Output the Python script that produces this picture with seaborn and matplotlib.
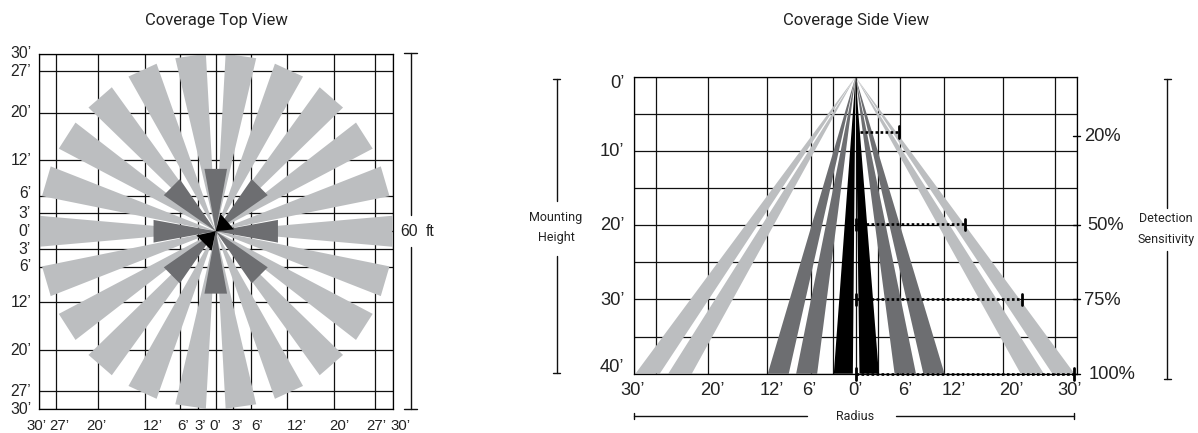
# coverage pattern plot: top view and side view of the sensor

import numpy as np
import pandas as pd
import matplotlib.pyplot as plt
import seaborn as sns

LIGHT = "#bcbec0"
DARK = "#6d6e71"
BLACK = "#000000"
W, H = 1198, 433

# 1. Top view data (feet and degrees)
top_grid = [-30, -27, -20, -12, -6, -3, 0, 3, 6, 12, 20, 27, 30]
top_xlabel_pos = [-30.3, -26.4, -20.2, -10.7, -5.5, -2.7, -0.1, 3.6, 7.0, 13.8, 20.9, 27.2, 31.2]
top_xlabels = ["30’", "27’", "20’", "12’", "6’", "3’", "0’", "3’", "6’", "12’", "20’", "27’", "30’"]
top_ylabel_pos = [-30, -27, -20, -12, -6.4, -3, 0, 3, 6, 12, 20.2, 27, 30]
top_ylabels = ["30’", "27’", "20’", "12’", "6’", "3’", "0’", "3’", "6’", "12’", "20’", "27’", "30’"]

light_bearings = [0, 16.4, 32.7, 49.1, 65.5, 81.8, 98.2, 114.5, 130.9, 147.3, 163.6,
                  180, 196.4, 212.7, 229.1, 245.5, 261.8, 278.2, 294.5, 310.9, 327.3, 343.6]
light_half = 5.0
light_radius = 30.0
dark_bearings = [0, 45, 90, 135, 180, 225, 270, 315]
dark_half = 10.3
dark_radius = 10.7
black_bearings = [41, 225]
black_half = [35, 33]
black_radius = [3.1, 3.35]

# 2. Side view data (feet)
side_xgrid = [-30, -27, -20, -12, -6, -3, 0, 3, 6, 12, 20, 27, 30]
side_ygrid = [0, 5, 10, 15, 20, 25, 30, 35, 40]
side_xlabel_pos = [-30.2, -19.4, -11.4, -6.3, 0, 6.8, 13.3, 21.1, 29.1]
side_xlabels = ["30’", "20’", "12’", "6’", "0’", "6’", "12’", "20’", "30’"]
side_ylabel_pos = [0.85, 10.1, 20.1, 30.1, 39.1]
side_ylabels = ["0’", "10’", "20’", "30’", "40’"]

side_light = [(-29.85, -26.55), (-25.4, -22.2), (22.4, 25.55), (26.7, 29.7)]
side_dark = [(-11.9, -9.05), (-8.05, -5.2), (5.3, 8.2), (9.2, 12.07)]
side_black = [(-2.94, -0.36), (0.54, 3.17)]

sens_labels = ["20%", "50%", "75%", "100%"]
sens_depth = [7.5, 19.9, 30.0, 40.0]
sens_reach = [5.9, 14.8, 22.6, 29.7]
sens_start = [0.6, 0.0, 0.0, 0.0]
sens_tick_depth = [8.0, 20.0, 30.0, 40.0]

sns.set_theme(style="white")
plt.rcParams["font.family"] = ["Liberation Sans", "DejaVu Sans"]
plt.rcParams["axes.linewidth"] = 0.9


def px_axes(fig, left, top, right, bottom):
    return fig.add_axes([left / W, 1 - bottom / H, (right - left) / W, (bottom - top) / H])


def wedge(bearing, half, radius):
    a = np.radians([bearing - half, bearing + half])
    return [0, radius * np.cos(a[0]), radius * np.cos(a[1])], [0, radius * np.sin(a[0]), radius * np.sin(a[1])]


fig = plt.figure(figsize=(W / 100, H / 100), dpi=100)

# overlay in pixel units for titles and scale bars
over = fig.add_axes([0, 0, 1, 1])
over.set_xlim(0, W)
over.set_ylim(H, 0)
over.axis("off")

# 3. Top view
ax1 = px_axes(fig, 38.5, 53.5, 393, 409)
ax1.set_xlim(-30, 30)
ax1.set_ylim(-30, 30)
ax1.set_xticks(top_grid)
ax1.set_yticks(top_grid)
ax1.set_xticklabels([])
ax1.set_yticklabels([])
ax1.tick_params(length=0)
ax1.grid(True, color="#111111", lw=0.9)
ax1.set_axisbelow(True)
for spine in ax1.spines.values():
    spine.set_color("black")

for b in light_bearings:
    xs, ys = wedge(b, light_half, light_radius)
    ax1.fill(xs, ys, color=LIGHT, lw=0, zorder=2)
for b in dark_bearings:
    xs, ys = wedge(b, dark_half, dark_radius)
    ax1.fill(xs, ys, color=DARK, lw=0, zorder=3)
for b, h, r in zip(black_bearings, black_half, black_radius):
    xs, ys = wedge(b, h, r)
    ax1.fill(xs, ys, color=BLACK, lw=0, zorder=4)

xf = ax1.get_xaxis_transform()
yf = ax1.get_yaxis_transform()
# bottom labels sit close to the image edge, keep them inside
for pos, lab in zip(top_xlabel_pos, top_xlabels):
    ax1.text(pos, -0.047, lab, transform=xf, ha="center", va="center", fontsize=10.8, color="#222222")
for pos, lab in zip(top_ylabel_pos, top_ylabels):
    ax1.text(-0.021, -pos, lab, transform=yf, ha="right", va="center", fontsize=11.3, color="#222222")

# 4. Side view
ax2 = px_axes(fig, 634.3, 76.7, 1076.7, 373.7)
ax2.set_xlim(-30, 30)
ax2.set_ylim(40, 0)
ax2.set_xticks(side_xgrid)
ax2.set_yticks(side_ygrid)
ax2.set_xticklabels([])
ax2.set_yticklabels([])
ax2.tick_params(length=0)
ax2.grid(True, color="#111111", lw=0.9)
ax2.set_axisbelow(True)
for spine in ax2.spines.values():
    spine.set_color("black")

for group, col in ((side_light, LIGHT), (side_dark, DARK), (side_black, BLACK)):
    for a, b in group:
        ax2.fill([0, a, b], [0, 40, 40], color=col, lw=0, zorder=2)

# dotted reach lines with end ticks
for start, reach, depth in zip(sens_start, sens_reach, sens_depth):
    reach_df = pd.DataFrame({"radius": [start, reach], "depth": [depth, depth]})
    sns.lineplot(data=reach_df, x="radius", y="depth", ax=ax2, color="black", lw=1.9,
                 linestyle=(0, (1.0, 0.9)), sort=False, estimator=None, zorder=5, clip_on=False)
    ax2.plot([reach, reach], [depth - 0.8, depth + 0.8], color="black", lw=2, zorder=6, clip_on=False)
    if start == 0:
        ax2.plot([start, start], [depth - 0.8, depth + 0.8], color="black", lw=2, zorder=6, clip_on=False)
ax2.set_xlabel("")
ax2.set_ylabel("")
ax2.set_xlim(-30, 30)
ax2.set_ylim(40, 0)

xf = ax2.get_xaxis_transform()
yf = ax2.get_yaxis_transform()
for pos, lab in zip(side_xlabel_pos, side_xlabels):
    ax2.text(pos, -0.055, lab, transform=xf, ha="center", va="center", fontsize=13.2, color="#222222")
for pos, lab in zip(side_ylabel_pos, side_ylabels):
    ax2.text(-0.022, pos, lab, transform=yf, ha="right", va="center", fontsize=13.2, color="#222222")
# sensitivity marks on the right edge
for d, lab, dx in zip(sens_tick_depth, sens_labels, [0.017, 0.024, 0.017, 0.026]):
    ax2.plot([29.5, 30.5], [d, d], color="black", lw=1, zorder=6, clip_on=False)
    ax2.text(1 + dx, d + 0.1, lab, transform=yf, ha="left", va="center", fontsize=13.2, color="#222222")

# 5. Titles and scale bars
for x, y, s in ((216, 20, "Coverage Top View"), (856, 20, "Coverage Side View")):
    over.text(x, y, s, ha="center", va="center", fontsize=12, family=["Roboto", "DejaVu Sans"], color="#222222")
for x, y, s in ((556, 218, "Mounting"), (556, 238, "Height"),
                (1166, 219, "Detection"), (1166, 240, "Sensitivity"), (855, 417, "Radius")):
    over.text(x, y, s, ha="center", va="center", fontsize=9, family=["Roboto", "DejaVu Sans"], color="#222222")


def vbar(x, top, bottom, gap_top, gap_bottom, cap):
    over.plot([x, x], [top, gap_top], color="#111111", lw=1)
    over.plot([x, x], [gap_bottom, bottom], color="#111111", lw=1)
    over.plot([x - cap, x + cap], [top, top], color="#111111", lw=1)
    over.plot([x - cap, x + cap], [bottom, bottom], color="#111111", lw=1)


vbar(410.7, 53, 409, 215, 247, 6.5)
vbar(556.7, 79, 372.7, 201, 256, 3.5)
vbar(1167.3, 79, 379.3, 208, 251, 3.5)
over.text(400, 231.5, "60", ha="left", va="center", fontsize=11.3, color="#222222")
over.text(434, 231.5, "ft", ha="right", va="center", fontsize=11.3, color="#222222")
over.plot([634.3, 806.7], [415.7, 415.7], color="#111111", lw=1)
over.plot([896, 1074], [415.7, 415.7], color="#111111", lw=1)
over.plot([634.3, 634.3], [413, 418.5], color="#111111", lw=1)
over.plot([1074, 1074], [413, 418.5], color="#111111", lw=1)
over.set_xlim(0, W)
over.set_ylim(H, 0)

fig.savefig("out.png", dpi=100, facecolor="white")
